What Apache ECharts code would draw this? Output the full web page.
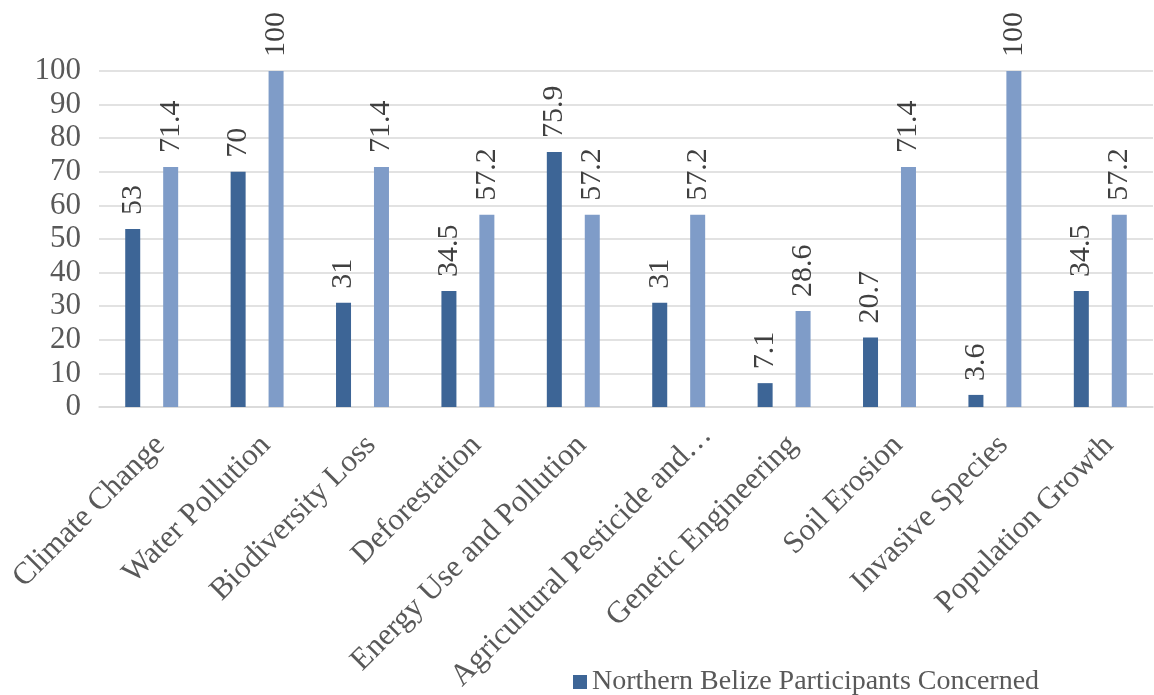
<!DOCTYPE html>
<html>
<head>
<meta charset="utf-8">
<script src="https://cdn.jsdelivr.net/npm/echarts@6/dist/echarts.min.js"></script>
<style>html,body{margin:0;padding:0;background:#fff}#c{width:1154px;height:695px}</style>
</head>
<body>
<div id="c"></div>
<script>
const categories = ['Climate Change','Water Pollution','Biodiversity Loss','Deforestation','Energy Use and Pollution','Agricultural Pesticide and\u2026','Genetic Engineering','Soil Erosion','Invasive Species','Population Growth'];
const northernValues = [53, 70, 31, 34.5, 75.9, 31, 7.1, 20.7, 3.6, 34.5];
const secondValues = [71.4, 100, 71.4, 57.2, 57.2, 57.2, 28.6, 71.4, 100, 57.2];
const yTicks = [0,10,20,30,40,50,60,70,80,90,100];

const font = 'Liberation Serif';
const chart = echarts.init(document.getElementById('c'));
const labelCfg = {
  show: true, position: 'top', rotate: 90, align: 'left', verticalAlign: 'middle',
  distance: 14, fontFamily: font, fontSize: 30, color: '#404040'
};
chart.setOption({
  animation: false,
  grid: {left: 99, right: 1, top: 71, bottom: 288, containLabel: false, outerBoundsMode: 'none'},
  legend: {
    data: ['Northern Belize Participants Concerned'],
    left: 568, top: 663, itemWidth: 14, itemHeight: 14, itemGap: 20,
    icon: 'rect',
    textStyle: {fontFamily: font, fontSize: 28, color: '#595959'}
  },
  xAxis: {
    type: 'category', data: categories,
    axisLine: {show: true, lineStyle: {color: '#d9d9d9', width: 1.5}},
    axisTick: {show: false},
    axisLabel: {rotate: 45, interval: 0, margin: 25, verticalAlign: 'top', lineHeight: 24,
      fontFamily: font, fontSize: 31, color: '#595959',
      formatter: v => v.endsWith('\u2026') ? '{t|' + v + '}' : v,
      rich: {t: {fontFamily: font, fontSize: 31, color: '#595959', lineHeight: 38, padding: [0, -21, 0, 0]}}
    }
  },
  yAxis: {
    type: 'value', min: 0, max: 100, interval: 10,
    axisLine: {show: false}, axisTick: {show: false},
    splitLine: {lineStyle: {color: '#d9d9d9', width: 1.5}},
    axisLabel: {margin: 18, fontFamily: font, fontSize: 31, color: '#595959',
      formatter: v => yTicks.includes(v) ? String(v) : ''}
  },
  series: [
    {name: 'Northern Belize Participants Concerned', type: 'bar', data: northernValues,
     barWidth: 15, barGap: '153%', itemStyle: {color: '#3D6596'}, label: labelCfg},
    {name: 'Other Participants Concerned', type: 'bar', data: secondValues,
     barWidth: 15, itemStyle: {color: '#7F9CC8'}, label: labelCfg}
  ]
});
</script>
</body>
</html>
